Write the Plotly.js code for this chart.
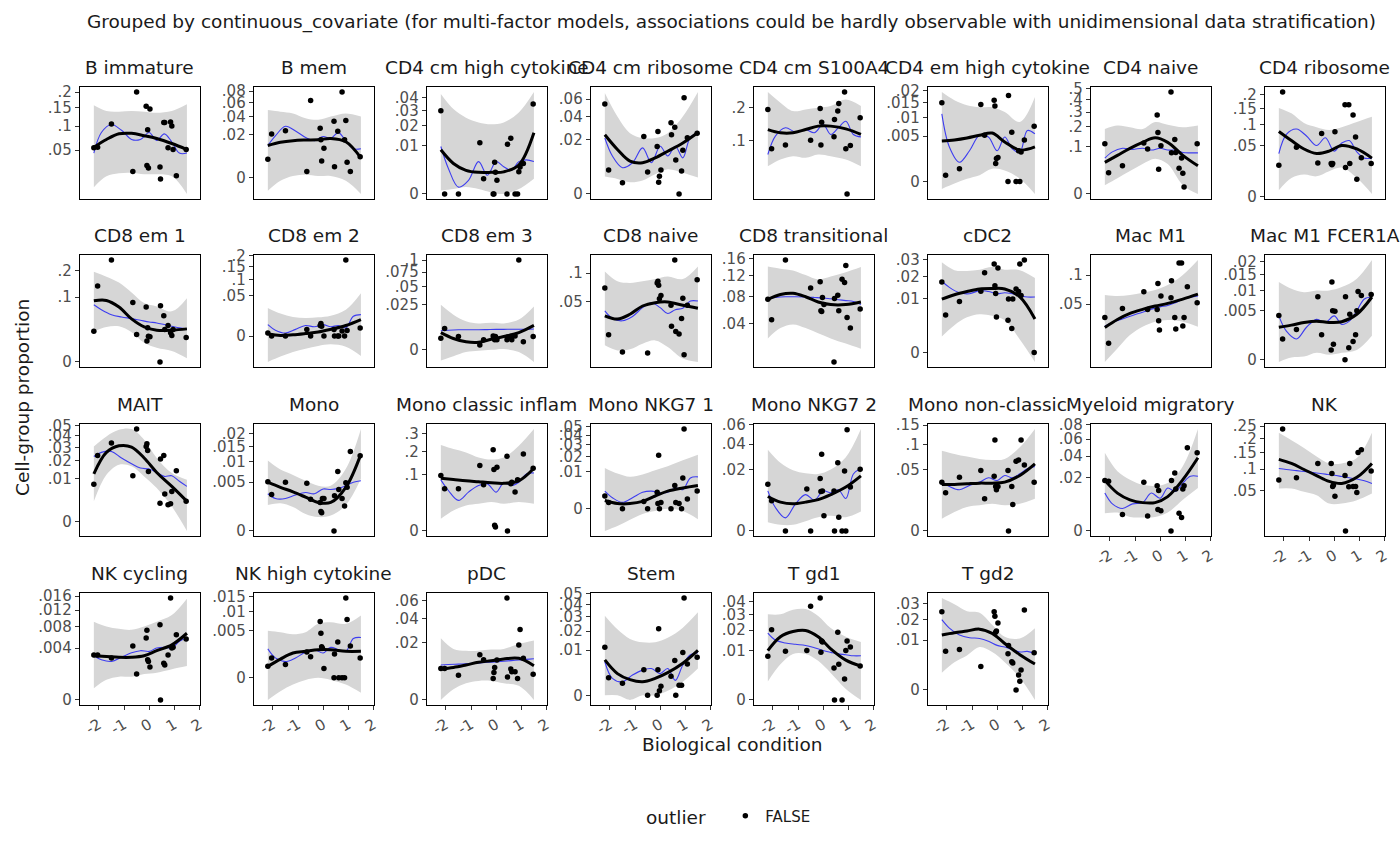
<!DOCTYPE html>
<html>
<head>
<meta charset="utf-8">
<script src="https://cdn.plot.ly/plotly-3.0.1.min.js"></script>
<style>
html, body { margin: 0; padding: 0; background: #fff; }
#plotDiv { width: 1400px; height: 865px; }
</style>
</head>
<body>
<div id="plotDiv"></div>
<script>
// Faceted proportions vs biological condition, one panel per cell group.
// Y axes are on a square-root scale, x shared across panels.

const cellGroups = [
    'B immature', 'B mem', 'CD4 cm high cytokine', 'CD4 cm ribosome', 'CD4 cm S100A4', 'CD4 em high cytokine', 'CD4 naive', 'CD4 ribosome',
    'CD8 em 1', 'CD8 em 2', 'CD8 em 3', 'CD8 naive', 'CD8 transitional', 'cDC2', 'Mac M1', 'Mac M1 FCER1A',
    'MAIT', 'Mono', 'Mono classic inflam', 'Mono NKG7 1', 'Mono NKG7 2', 'Mono non-classic', 'Myeloid migratory', 'NK',
    'NK cycling', 'NK high cytokine', 'pDC', 'Stem', 'T gd1', 'T gd2',
];

// condition value of each sample (same samples in every panel)
const sampleX = [-2.2, -2.05, -1.5, -0.65, -0.5, -0.12, -0.09, -0.06, -0.03, 0.03, 0.43, 0.45, 0.58, 0.62, 0.75, 0.85, 0.9, 0.95, 1.08, 1.47];

// observed proportions, one row per cell group, aligned with sampleX
const pointsY = [
    [.054, .055, .105, .020, .2, .154, .027, .091, .024, .146, .025, .0126, .109, .109, .054, .11, .100, .051, .0156, .051],
    [.0036, .0204, .0235, .0004, .0635, .0261, .0153, .003, null, .0093, .0338, .0013, .0229, null, .078, .0153, .0349, .0025, .0004, .0047],
    [.0298, 0, 0, .0113, .001, 0, 0, .0043, .002, .0008, 0, .0106, .0134, null, 0, 0, .0021, .0031, .004, .0349],
    [.054, .0038, .00083, .022, .0032, .015, .026, .0009, .0021, .0038, .034, .0234, .0298, .0077, 0, .0035, .0128, .062, .0211, .0247],
    [.194, .0808, .0894, null, .1016, .1975, .0894, .152, null, null, .110, .1606, .188, .2155, null, .259, .0808, .0112, .0885, .166],
    [.0151, .0001, .0004, .0144, .0052, .016, .0138, .0008, .0013, .0014, 0, .018, .0059, null, 0, .0023, 0, .0021, .0042, .0074],
    [.112, .0189, .0342, .115, .0892, .279, .168, .026, null, .1024, .466, .0743, .1315, .0756, .0283, .0562, .0183, .0018, null, .112],
    [.0192, .211, .0471, .0219, .0768, .0214, .0196, .0214, null, .0812, .163, .0163, .163, .0214, .1288, .0685, .0059, null, .0292, .0214],
    [.0225, .1376, .247, .0843, .0179, .0717, .0103, .0276, .0158, .015, 0, .0752, .051, .025, .0315, .0202, .0166, .025, null, .0143],
    [.0003, 0, 0, .0014, 0, .0035, .0049, .003, null, 0, .0014, 0, 0, 0, .0008, 0, .179, .001, null, .0021],
    [.0017, .0056, .0022, .0003, .0013, .0024, .0017, .0013, .0022, .0013, .0013, .002, .0022, .0013, .0024, null, .1, null, .0008, .0022],
    [.0722, .014, .004, null, .0036, .0809, .0839, .0768, .0548, .0598, .0454, .0212, .128, .0166, .0147, .0292, .0553, .003, .0454, .087],
    [.0757, .0453, .156, null, .0957, .108, .0578, .0565, .0788, .0671, .007, .077, .0825, .0578, .113, .1067, .143, .048, .035, .0604],
    [.0173, .0049, .009, .013, .0221, .0272, .0154, .0121, .0044, .0248, .0036, .0099, .002, .0099, .014, .0129, .0272, .0113, .0296, 0],
    [.0327, .0096, .0439, .069, .0426, .0426, .0838, .029, .0197, .062, .0594, .0887, .0327, .0206, .126, .126, .0235, .0327, .0777, .0518],
    [.0041, .0009, .0019, .0083, .0013, .0002, .0126, .005, .0005, .0049, 0, .0083, .0003, .0043, .0007, .0013, .005, .0097, .0086, .0089],
    [.0076, .0238, .0336, .0114, .0467, .0308, .033, .0276, .0137, null, .0018, .0213, .0238, .0041, .0015, .0017, .0049, null, .0141, .0022],
    [.0051, .0028, .005, .0048, .0021, .0017, .0008, .0007, .0022, .0022, 0, .0026, .0074, .0036, .0022, .0013, .0049, .004, .0133, .0119],
    [.0975, .0564, .0564, .1357, .0676, .21, .1197, .001, .0005, .129, .177, 0, .0705, .0756, .0479, .083, null, null, .188, .125],
    [.0012, .0003, 0, .0004, 0, .002, .0002, .021, 0, .0003, 0, null, .004, .0003, .0002, 0, .007, .0467, .0007, .0023],
    [.0116, .0048, 0, .0093, 0, .0146, .0082, .0312, .0085, .0012, .0085, 0, .0246, .001, 0, .019, 0, .0542, .0102, .0202],
    [.0319, .0195, .0387, .0489, .0139, .0402, .1108, .0265, .0227, .0265, .0489, 0, .0265, .0094, .0651, .0676, null, .1108, .0584, .0319],
    [.0182, .0175, .0019, .0168, .0016, .0145, .0033, .0117, null, .0029, 0, .0182, .024, .0125, .0022, .0013, .0125, .0145, .0494, .0436],
    [.0726, .237, .0782, .116, null, .116, .0883, .0586, .062, .0404, .0834, .0028, .058, .116, .0586, .0586, .0468, .15, .159, .0953],
    [.003, .003, .0026, .0043, .001, .0057, .0072, .0024, .0022, .0016, .0084, 0, .002, .0018, .003, .0154, .004, .0041, .0063, .0055],
    [.0003, .0009, .0004, .0015, .001, .0072, .0045, .0022, .002, .0002, 0, .0013, .0029, 0, 0, 0, .0144, .0077, .0023, .0009],
    [.006, .006, .0037, .0124, .0098, .0028, .0046, .0064, null, .0097, .063, .0032, .0058, .0048, .0048, .0028, .0184, .0301, .0105, .004],
    [.0113, .0015, .0007, .0032, 0, 0, .0032, .0216, .0001, .0004, .0018, null, .0059, 0, .0005, .0005, .0089, .046, .0048, .0071],
    [.0078, .0202, .0097, .01, .036, .0426, .0093, .0143, .0138, null, .0042, 0, .0188, .0052, 0, .0018, .01, .0143, .0115, .0047],
    [.0246, .006, .0066, .0022, null, .0246, .0219, .0134, .014, .018, .0053, .008, .0032, .0029, 0, .0009, .0003, .0016, .0257, .0056],
];

// smooth trend (black) and its confidence band, read at smoothX
const smoothX = [-2.2, -1.7, -1.2, -0.7, -0.2, 0.3, 0.9, 1.5];
const fitY = [
    [.055, .07, .082, .083, .078, .072, .062, .051],
    [.011, .0133, .0146, .0151, .0153, .0164, .0138, .0042],
    [.0084, .004, .0024, .002, .002, .0021, .0036, .0161],
    [.0234, .0132, .0072, .0065, .0087, .0122, .0174, .0253],
    [.130, .121, .121, .130, .140, .140, .132, .1164],
    [.004, .0042, .0046, .0052, .0057, .0038, .0024, .0029],
    [.0435, .0655, .092, .118, .140, .118, .0655, .0342],
    [.082, .0607, .0439, .0359, .04, .0506, .0439, .0287],
    [.089, .09, .0717, .044, .0292, .024, .024, .026],
    [.00017, .00001, .00005, .0002, .0005, .0014, .0035, .0085],
    [.0037, .0016, .0008, .0007, .0014, .0022, .0037, .0074],
    [.0321, .0285, .034, .0444, .049, .05, .0454, .0414],
    [.0757, .084, .0861, .08, .0712, .0671, .0671, .0712],
    [.0099, .0116, .0129, .014, .0142, .014, .0107, .0039],
    [.0222, .0304, .0375, .0426, .0471, .0509, .0573, .0652],
    [.0022, .0025, .0029, .0031, .0029, .003, .0043, .0082],
    [.0124, .0261, .0313, .0303, .022, .0131, .0067, .0022],
    [.005, .004, .0032, .0024, .0017, .0017, .004, .0124],
    [.088, .084, .08, .077, .074, .072, .08, .125],
    [.0005, .0002, .0002, .0004, .0012, .0023, .0032, .004],
    [.0063, .0044, .0039, .0044, .0052, .007, .0102, .0161],
    [.0289, .0289, .0298, .0306, .0306, .0319, .0412, .0602],
    [.0182, .0102, .0069, .0057, .0057, .0084, .0187, .0381],
    [.128, .116, .099, .0832, .0696, .0651, .0791, .116],
    [.0029, .0028, .0027, .0027, .0029, .0036, .0045, .0066],
    [.0003, .0008, .0014, .0016, .0018, .0018, .0016, .0016],
    [.0058, .0064, .0074, .0086, .0093, .0102, .0105, .0071],
    [.0061, .0023, .0012, .0009, .0014, .0025, .005, .0098],
    [.01, .0164, .0192, .0198, .0164, .0107, .0065, .0047],
    [.0122, .0132, .014, .0149, .0129, .0087, .005, .0027],
];
// band edges; negative numbers are signed squares (band dips below 0 on the sqrt scale)
const fitLow = [
    [.0065, .015, .018, .0185, .017, .017, .015, .003],
    [-.0018, -.0001, .00003, .0001, .00003, .00003, -.0001, -.0028],
    [.00005, .0001, .0002, .0001, .00001, 0, .0001, .001],
    [.002, .0015, .0009, .0012, .0026, .0041, .003, .0018],
    [.0464, .0585, .0651, .0618, .0686, .0651, .0585, .0464],
    [-.00013, -.00001, .00002, .0001, .0004, .0003, .00002, -.00037],
    [.003, .0104, .0223, .0387, .054, .0387, .003, -.00002],
    [.0008, .0067, .0094, .008, .0126, .0163, .0067, .00015],
    [.0225, .0292, .0303, .0211, .0088, .0048, .0028, .0003],
    [-.0206, -.013, -.0078, -.0049, -.003, -.0021, -.0035, -.0122],
    [-.0014, -.0005, -.00006, -.00001, 0, .00001, -.00006, -.0018],
    [.0072, .0047, .0052, .0081, .0101, .0063, .0018, .001],
    [.0242, .035, .0392, .035, .0294, .0242, .0195, .0153],
    [.0009, .0026, .0043, .0051, .0047, .0036, .0006, -.0003],
    [.0015, .0067, .0155, .0228, .0279, .0297, .0279, .0228],
    [-.00001, .00001, .00002, .0001, .00005, .0001, .0002, .0012],
    [.0022, .0119, .0176, .0166, .0111, .0061, .0012, -.0005],
    [.0014, .0016, .0012, .0006, .0004, .0005, .0014, .0057],
    [.0048, .0134, .0207, .0235, .0265, .0235, .0265, .0235],
    [-.0036, -.0022, -.0009, -.0002, -.00004, 0, -.00004, -.0008],
    [.0004, .0002, .0002, .0005, .001, .0012, .001, .002],
    [.002, .0048, .0077, .0088, .0099, .0088, .0099, .0139],
    [.0022, .0024, .0014, .0013, .0014, .0024, .0069, .0131],
    [.0546, .0546, .0481, .042, .0287, .0287, .0338, .045],
    [.0002, .0006, .0008, .0008, .001, .0011, .0014, .0017],
    [-.0011, -.0004, -.0001, -.00001, 0, -.00001, -.0001, -.0005],
    [0, .0007, .0017, .0022, .0022, .0017, .0012, 0],
    [0, 0, -.0001, 0, 0, .0001, .0009, .0035],
    [.0014, .0052, .0087, .0087, .0063, .003, .0005, 0],
    [.0012, .0031, .0048, .0074, .0058, .0031, .0006, -.0004],
];
const fitHigh = [
    [.157, .14, .138, .14, .138, .135, .14, .16],
    [.0486, .0463, .044, .0377, .0357, .0398, .044, .0398],
    [.043, .031, .025, .022, .0209, .022, .0286, .0447],
    [.068, .04, .0247, .0209, .0209, .0247, .04, .0694],
    [.259, .218, .188, .194, .2, .206, .230, .206],
    [.0194, .016, .0141, .0134, .0134, .0117, .0086, .0173],
    [.188, .209, .1985, .188, .231, .2136, .1985, .209],
    [.152, .134, .1046, .093, .0856, .093, .1076, .123],
    [.194, .173, .15, .1147, .0824, .0734, .0609, .0969],
    [.0245, .0157, .0114, .0102, .011, .013, .0217, .0572],
    [.0252, .0154, .0102, .0087, .0091, .0087, .0114, .0234],
    [.103, .0839, .0809, .0839, .0882, .0933, .0882, .1136],
    [.141, .136, .132, .122, .1128, .1188, .128, .1396],
    [.0282, .0235, .0231, .0238, .0253, .0238, .0235, .0192],
    [.0636, .062, .0636, .0674, .0719, .0807, .1, .1324],
    [.0126, .0105, .0095, .01, .01, .011, .0137, .0207],
    [.0308, .0396, .046, .0467, .0365, .022, .0128, .0095],
    [.0104, .0079, .0066, .0053, .0043, .0043, .0081, .0218],
    [.2346, .213, .196, .172, .162, .172, .231, .33],
    [.0123, .0091, .0075, .0086, .0109, .0133, .0173, .0215],
    [.035, .0246, .0195, .0176, .0172, .02, .0288, .055],
    [.0864, .0795, .0741, .0695, .0676, .0695, .0937, .139],
    [.0436, .0254, .0187, .0152, .0145, .0163, .0299, .0739],
    [.222, .193, .165, .137, .116, .116, .132, .222],
    [.0091, .008, .0075, .0073, .008, .0091, .0107, .0152],
    [.005, .0047, .0043, .0047, .0066, .007, .0066, .0088],
    [.0231, .0158, .0147, .0147, .0154, .0158, .019, .0214],
    [.0308, .0212, .0155, .0137, .0137, .0161, .0223, .0335],
    [.0301, .0301, .0334, .0339, .0289, .0212, .0164, .0138],
    [.034, .0296, .025, .024, .0171, .0114, .0107, .0154],
];

// flexible trend (thin blue), read at wiggleX
const wiggleX = [-2.2, -1.9, -1.5, -1.1, -0.7, -0.35, 0, 0.3, 0.6, 0.9, 1.2, 1.5];
const wiggleY = [
    [.045, .085, .104, .09, .07, .07, .085, .068, .082, .065, .045, .045],
    [.011, .0186, .0282, .0232, .0172, .0146, .0181, .0164, .0216, .0146, .0089, .0089],
    [.0097, .0028, .0002, .0008, .0045, .0015, .0045, .0032, .0024, .0045, .005, .0045],
    [.0209, .0096, .0046, .0065, .0142, .0065, .0152, .0096, .0152, .0087, .0216, .0247],
    [.0686, .112, .135, .123, .130, .121, .145, .1164, .135, .155, .1164, .110],
    [.0111, .0029, .0009, .0023, .0052, .0048, .0023, .0048, .0026, .0021, .0063, .0055],
    [.0562, .078, .092, .0878, .092, .085, .092, .085, .085, .0756, .0743, .0743],
    [.0359, .075, .0883, .071, .0506, .0669, .04, .0555, .0607, .0388, .0287, .0287],
    [.0779, .065, .0532, .0481, .0447, .0413, .0381, .0362, .0332, .0303, .0276, .026],
    [.0041, .0011, .0003, .0014, .0035, .0027, .0041, .0027, .0035, .0021, .0122, .0143],
    [.0045, .0048, .005, .005, .005, .0051, .0052, .0052, .0053, .0053, .0053, .0054],
    [.038, .0292, .0267, .0314, .0422, .049, .0422, .0348, .0396, .0414, .0513, .0513],
    [.0773, .079, .08, .08, .0795, .0788, .078, .0765, .075, .0735, .072, .0671],
    [.0176, .0147, .0124, .012, .0133, .0129, .012, .0124, .012, .0113, .0107, .0107],
    [.0232, .027, .031, .035, .039, .043, .046, .048, .052, .057, .06, .062],
    [.004, .0017, .0009, .0022, .0034, .0029, .004, .0026, .0031, .005, .0077, .0082],
    [.0231, .0261, .0268, .022, .0182, .0156, .015, .0131, .0111, .0114, .0088, .0067],
    [.0029, .0022, .0022, .0027, .0031, .0029, .0037, .0036, .0038, .0043, .005, .0053],
    [.083, .052, .0296, .048, .0656, .0705, .0479, .0735, .0656, .0756, .1035, .107],
    [.0023, .0009, .0003, .0009, .002, .0023, .0019, .002, .0032, .0027, .007, .0075],
    [.0085, .0029, .0009, .0039, .007, .005, .0085, .0077, .009, .0056, .0172, .0207],
    [.0319, .0265, .0227, .0277, .0319, .0378, .0341, .0412, .0378, .0437, .0516, .0556],
    [.0102, .0052, .0036, .0052, .0057, .0102, .0076, .0131, .0111, .0163, .0213, .0213],
    [.1018, .099, .096, .093, .09, .087, .084, .081, .078, .075, .071, .0651],
    [.0029, .0024, .0022, .0027, .0033, .0036, .0035, .004, .0041, .004, .0051, .0058],
    [.0019, .0009, .0006, .0009, .0015, .0018, .0014, .0021, .0018, .0016, .0035, .0037],
    [.0074, .0076, .0078, .008, .0083, .0086, .0088, .0091, .0094, .0097, .01, .0103],
    [.0055, .0014, .0009, .002, .0031, .0035, .0023, .0035, .0011, .0045, .008, .0089],
    [.0183, .0147, .0133, .0127, .0122, .0112, .01, .0093, .0087, .0084, .008, .008],
    [.0199, .0154, .0122, .011, .0107, .0096, .008, .0074, .0066, .0058, .006, .0053],
];

// y tick values per panel (original units)
const yTicks = [
    [.05, .1, .15, .2], [0, .02, .04, .06, .08], [0, .01, .02, .03, .04], [0, .02, .04, .06],
    [.1, .2], [0, .005, .01, .015, .02], [0, .1, .2, .3, .4, .5], [0, .05, .1, .15, .2],
    [0, .1, .2], [0, .05, .1, .15, .2], [0, .025, .05, .075, .1], [.05, .1],
    [.04, .08, .12, .16], [0, .01, .02, .03], [.05, .1], [0, .005, .01, .015, .02],
    [0, .01, .02, .03, .04, .05], [0, .005, .01, .015, .02], [0, .1, .2, .3], [0, .01, .02, .03, .04, .05],
    [0, .02, .04, .06], [0, .05, .1, .15], [0, .02, .04, .06, .08], [.05, .1, .15, .2, .25],
    [0, .004, .008, .012, .016], [0, .005, .01, .015], [0, .02, .04, .06], [0, .01, .02, .03, .04, .05],
    [0, .01, .02, .03, .04], [0, .01, .02, .03],
];
const xTicks = [-2, -1, 0, 1, 2];

// ---- layout geometry (px) ----
const W = 1400, H = 865;
const COL_LEFT = [80, 254, 427, 591, 754, 928, 1091, 1265];
const ROW_TOP = [87, 255, 424, 593];
const PW = 119.5, PH = 112;
const FONT = 'DejaVu Sans, sans-serif';
const INK = '#1a1a1a', TICK_INK = '#4d4d4d';
const TEXT_SIZE = 18.5, TICK_SIZE = 15;

const sq = v => (v === null ? null : Math.sign(v) * Math.sqrt(Math.abs(v)));
const fmtTick = v => (v === 0 ? '0' : String(v).replace(/^0\./, '.'));

const traces = [];
const annotations = [];
const layout = {
    width: W, height: H,
    margin: { l: 0, r: 0, t: 0, b: 0 },
    paper_bgcolor: '#fff', plot_bgcolor: '#fff',
    font: { family: FONT, color: INK },
    showlegend: true,
    legend: {
        orientation: 'h', x: 730 / W, xanchor: 'center', y: 1 - 817 / H, yanchor: 'middle',
        title: { text: 'outlier  ', font: { size: TEXT_SIZE, color: INK } },
        font: { size: TICK_SIZE, color: INK },
    },
    annotations,
};

cellGroups.forEach((name, i) => {
    const row = Math.floor(i / 8), col = i % 8;
    const n = i === 0 ? '' : String(i + 1);
    const xa = 'x' + n, ya = 'y' + n;
    const isBottom = i + 8 >= cellGroups.length;
    const left = COL_LEFT[col], top = ROW_TOP[row];

    const low = fitLow[i].map(sq), high = fitHigh[i].map(sq);
    const fit = fitY[i].map(sq), wig = wiggleY[i].map(sq), pts = pointsY[i].map(sq);

    // ggplot-style range: all layer data, expanded 5% each side
    const all = [...low, ...high, ...fit, ...wig, ...pts.filter(v => v !== null)];
    const lo = Math.min(...all), hi = Math.max(...all), pad = (hi - lo) * 0.05;

    const common = { xaxis: xa, yaxis: ya, hoverinfo: 'skip', showlegend: false };
    traces.push({ ...common, x: smoothX, y: low, mode: 'lines',
        line: { width: 0, color: 'rgba(0,0,0,0)', shape: 'spline' } });
    traces.push({ ...common, x: smoothX, y: high, mode: 'lines', fill: 'tonexty', fillcolor: '#d6d6d6',
        line: { width: 0, color: 'rgba(0,0,0,0)', shape: 'spline' } });
    traces.push({ ...common, x: wiggleX, y: wig, mode: 'lines',
        line: { width: 1.1, color: '#3d3df0', shape: 'spline', smoothing: 1 } });
    traces.push({ ...common, x: smoothX, y: fit, mode: 'lines',
        line: { width: 3, color: '#000', shape: 'spline', smoothing: 1 } });
    traces.push({ ...common, x: sampleX, y: pts, mode: 'markers', name: 'FALSE',
        showlegend: i === 0, marker: { size: 5.5, color: '#000' } });

    layout['xaxis' + n] = {
        domain: [left / W, (left + PW) / W], anchor: ya,
        range: [-2.75, 2.0], tickvals: xTicks, ticktext: xTicks.map(String),
        showticklabels: isBottom, ticks: isBottom ? 'outside' : '', ticklen: 4, tickwidth: 1, tickcolor: '#333',
        tickangle: -30, tickfont: { size: TICK_SIZE, color: TICK_INK },
        showline: true, mirror: true, linecolor: '#000', linewidth: 1.3,
        showgrid: false, zeroline: false, fixedrange: true,
    };
    layout['yaxis' + n] = {
        domain: [1 - (top + PH) / H, 1 - top / H], anchor: xa,
        range: [lo - pad, hi + pad],
        tickvals: yTicks[i].map(Math.sqrt), ticktext: yTicks[i].map(fmtTick),
        ticks: 'outside', ticklen: 4, tickwidth: 1, tickcolor: '#333',
        tickfont: { size: TICK_SIZE, color: TICK_INK },
        showline: true, mirror: true, linecolor: '#000', linewidth: 1.3,
        showgrid: false, zeroline: false, fixedrange: true,
    };

    annotations.push({
        xref: 'paper', yref: 'paper', x: (left + PW / 2) / W, y: 1 - (top - 20) / H,
        text: name, showarrow: false, xanchor: 'center', yanchor: 'middle',
        font: { size: TEXT_SIZE, color: INK },
    });
});

// titles
annotations.push({
    xref: 'paper', yref: 'paper', x: 731 / W, y: 1 - 22 / H, showarrow: false,
    text: 'Grouped by continuous_covariate (for multi-factor models, associations could be hardly observable with unidimensional data stratification)',
    font: { size: 18.5, color: INK }, xanchor: 'center', yanchor: 'middle',
});
annotations.push({
    xref: 'paper', yref: 'paper', x: 732 / W, y: 1 - 744 / H, showarrow: false,
    text: 'Biological condition', font: { size: TEXT_SIZE, color: INK }, xanchor: 'center', yanchor: 'middle',
});
annotations.push({
    xref: 'paper', yref: 'paper', x: 22 / W, y: 1 - 398 / H, showarrow: false, textangle: -90,
    text: 'Cell-group proportion', font: { size: TEXT_SIZE, color: INK }, xanchor: 'center', yanchor: 'middle',
});

Plotly.newPlot('plotDiv', traces, layout, { displayModeBar: false, staticPlot: true });
</script>
</body>
</html>
